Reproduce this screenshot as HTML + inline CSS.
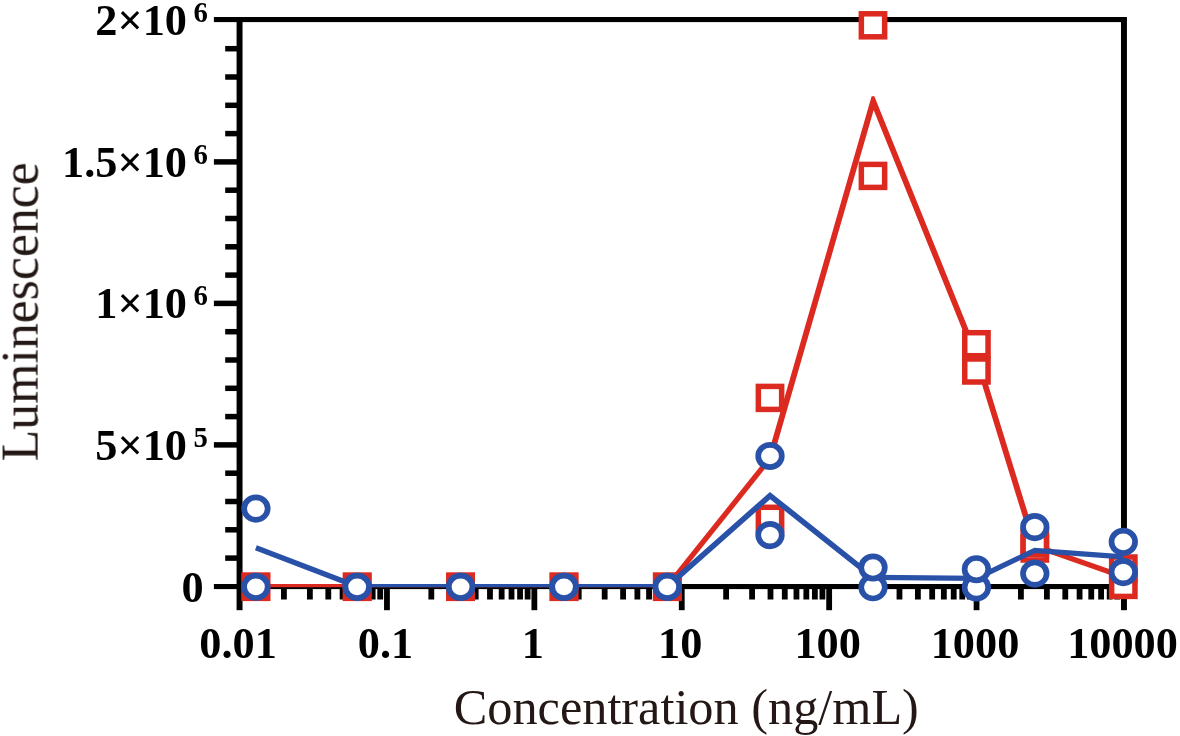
<!DOCTYPE html>
<html><head><meta charset="utf-8"><title>chart</title>
<style>
html,body{margin:0;padding:0;background:#fff;}
body{width:1180px;height:736px;overflow:hidden;}
svg{display:block;}
text{font-family:"Liberation Serif",serif;}
.tk{font-weight:bold;font-size:44.3px;fill:#000;}
.sup{font-size:28.8px;}
.ttl{font-size:50.3px;fill:#231815;}
.ttly{font-size:51.8px;fill:#231815;}
</style></head><body>
<svg width="1180" height="736" viewBox="0 0 1180 736">
<defs><clipPath id="cp"><rect x="0" y="96.3" width="1180" height="490.9"/></clipPath></defs>
<rect width="1180" height="736" fill="#fff"/>

<g fill="#000">
<rect x="225.20" y="555.35" width="14.35" height="5.50"/>
<rect x="225.20" y="527.05" width="14.35" height="5.50"/>
<rect x="225.20" y="498.75" width="14.35" height="5.50"/>
<rect x="225.20" y="470.45" width="14.35" height="5.50"/>
<rect x="213.90" y="442.15" width="25.65" height="5.50"/>
<rect x="225.20" y="413.85" width="14.35" height="5.50"/>
<rect x="225.20" y="385.55" width="14.35" height="5.50"/>
<rect x="225.20" y="357.25" width="14.35" height="5.50"/>
<rect x="225.20" y="328.95" width="14.35" height="5.50"/>
<rect x="213.90" y="300.65" width="25.65" height="5.50"/>
<rect x="225.20" y="272.35" width="14.35" height="5.50"/>
<rect x="225.20" y="244.05" width="14.35" height="5.50"/>
<rect x="225.20" y="215.75" width="14.35" height="5.50"/>
<rect x="225.20" y="187.45" width="14.35" height="5.50"/>
<rect x="213.90" y="159.15" width="25.65" height="5.50"/>
<rect x="225.20" y="130.85" width="14.35" height="5.50"/>
<rect x="225.20" y="102.55" width="14.35" height="5.50"/>
<rect x="225.20" y="74.25" width="14.35" height="5.50"/>
<rect x="225.20" y="45.95" width="14.35" height="5.50"/>
<rect x="213.90" y="17.00" width="25.65" height="5.10"/>
<rect x="213.90" y="584.00" width="25.65" height="5.10"/>
<rect x="239.55" y="17.00" width="884.40" height="5.10"/>
<rect x="239.55" y="584.00" width="884.40" height="5.10"/>
<rect x="236.58" y="17.00" width="5.95" height="593.20"/>
<rect x="1120.98" y="17.00" width="5.95" height="593.20"/>
<rect x="281.02" y="586.55" width="5.80" height="12.95"/>
<rect x="306.98" y="586.55" width="5.80" height="12.95"/>
<rect x="325.39" y="586.55" width="5.80" height="12.95"/>
<rect x="339.68" y="586.55" width="5.80" height="12.95"/>
<rect x="351.35" y="586.55" width="5.80" height="12.95"/>
<rect x="361.22" y="586.55" width="5.80" height="12.95"/>
<rect x="369.77" y="586.55" width="5.80" height="12.95"/>
<rect x="377.31" y="586.55" width="5.80" height="12.95"/>
<rect x="384.05" y="586.55" width="5.80" height="23.65"/>
<rect x="428.42" y="586.55" width="5.80" height="12.95"/>
<rect x="454.38" y="586.55" width="5.80" height="12.95"/>
<rect x="472.79" y="586.55" width="5.80" height="12.95"/>
<rect x="487.08" y="586.55" width="5.80" height="12.95"/>
<rect x="498.75" y="586.55" width="5.80" height="12.95"/>
<rect x="508.62" y="586.55" width="5.80" height="12.95"/>
<rect x="517.17" y="586.55" width="5.80" height="12.95"/>
<rect x="524.71" y="586.55" width="5.80" height="12.95"/>
<rect x="531.45" y="586.55" width="5.80" height="23.65"/>
<rect x="575.82" y="586.55" width="5.80" height="12.95"/>
<rect x="601.78" y="586.55" width="5.80" height="12.95"/>
<rect x="620.19" y="586.55" width="5.80" height="12.95"/>
<rect x="634.48" y="586.55" width="5.80" height="12.95"/>
<rect x="646.15" y="586.55" width="5.80" height="12.95"/>
<rect x="656.02" y="586.55" width="5.80" height="12.95"/>
<rect x="664.57" y="586.55" width="5.80" height="12.95"/>
<rect x="672.11" y="586.55" width="5.80" height="12.95"/>
<rect x="678.85" y="586.55" width="5.80" height="23.65"/>
<rect x="723.22" y="586.55" width="5.80" height="12.95"/>
<rect x="749.18" y="586.55" width="5.80" height="12.95"/>
<rect x="767.59" y="586.55" width="5.80" height="12.95"/>
<rect x="781.88" y="586.55" width="5.80" height="12.95"/>
<rect x="793.55" y="586.55" width="5.80" height="12.95"/>
<rect x="803.42" y="586.55" width="5.80" height="12.95"/>
<rect x="811.97" y="586.55" width="5.80" height="12.95"/>
<rect x="819.51" y="586.55" width="5.80" height="12.95"/>
<rect x="826.25" y="586.55" width="5.80" height="23.65"/>
<rect x="870.62" y="586.55" width="5.80" height="12.95"/>
<rect x="896.58" y="586.55" width="5.80" height="12.95"/>
<rect x="914.99" y="586.55" width="5.80" height="12.95"/>
<rect x="929.28" y="586.55" width="5.80" height="12.95"/>
<rect x="940.95" y="586.55" width="5.80" height="12.95"/>
<rect x="950.82" y="586.55" width="5.80" height="12.95"/>
<rect x="959.37" y="586.55" width="5.80" height="12.95"/>
<rect x="966.91" y="586.55" width="5.80" height="12.95"/>
<rect x="973.65" y="586.55" width="5.80" height="23.65"/>
<rect x="1018.02" y="586.55" width="5.80" height="12.95"/>
<rect x="1043.98" y="586.55" width="5.80" height="12.95"/>
<rect x="1062.39" y="586.55" width="5.80" height="12.95"/>
<rect x="1076.68" y="586.55" width="5.80" height="12.95"/>
<rect x="1088.35" y="586.55" width="5.80" height="12.95"/>
<rect x="1098.22" y="586.55" width="5.80" height="12.95"/>
<rect x="1106.77" y="586.55" width="5.80" height="12.95"/>
<rect x="1114.31" y="586.55" width="5.80" height="12.95"/>
</g>
<path d="M255.9 586.55 L357.2 586.55 L460.6 586.55 L564.0 586.55 L667.3 586.55" fill="none" stroke="#DC2A20" stroke-width="5.0" stroke-linejoin="miter" stroke-miterlimit="6" clip-path="url(#cp)"/>
<path d="M667.3 586.55 L770.0 458.35" fill="none" stroke="#DC2A20" stroke-width="5.3" stroke-linejoin="miter" stroke-miterlimit="6" clip-path="url(#cp)"/>
<path d="M770.0 458.35 L873.2 101.20 L976.7 357.35 L1034.8 545.77" fill="none" stroke="#DC2A20" stroke-width="5.8" stroke-linejoin="miter" stroke-miterlimit="6" clip-path="url(#cp)"/>
<path d="M1034.8 545.77 L1123.3 576.70" fill="none" stroke="#DC2A20" stroke-width="5.2" stroke-linejoin="miter" stroke-miterlimit="6" clip-path="url(#cp)"/>
<rect x="241.50" y="572.55" width="28.8" height="28.5" fill="#DC2A20"/><rect x="247.00" y="578.05" width="17.8" height="17.5" fill="#fff"/>
<rect x="241.50" y="572.55" width="28.8" height="28.5" fill="#DC2A20"/><rect x="247.00" y="578.05" width="17.8" height="17.5" fill="#fff"/>
<rect x="342.80" y="572.55" width="28.8" height="28.5" fill="#DC2A20"/><rect x="348.30" y="578.05" width="17.8" height="17.5" fill="#fff"/>
<rect x="342.80" y="572.55" width="28.8" height="28.5" fill="#DC2A20"/><rect x="348.30" y="578.05" width="17.8" height="17.5" fill="#fff"/>
<rect x="446.20" y="572.55" width="28.8" height="28.5" fill="#DC2A20"/><rect x="451.70" y="578.05" width="17.8" height="17.5" fill="#fff"/>
<rect x="446.20" y="572.55" width="28.8" height="28.5" fill="#DC2A20"/><rect x="451.70" y="578.05" width="17.8" height="17.5" fill="#fff"/>
<rect x="549.60" y="572.55" width="28.8" height="28.5" fill="#DC2A20"/><rect x="555.10" y="578.05" width="17.8" height="17.5" fill="#fff"/>
<rect x="549.60" y="572.55" width="28.8" height="28.5" fill="#DC2A20"/><rect x="555.10" y="578.05" width="17.8" height="17.5" fill="#fff"/>
<rect x="652.90" y="572.55" width="28.8" height="28.5" fill="#DC2A20"/><rect x="658.40" y="578.05" width="17.8" height="17.5" fill="#fff"/>
<rect x="652.90" y="572.55" width="28.8" height="28.5" fill="#DC2A20"/><rect x="658.40" y="578.05" width="17.8" height="17.5" fill="#fff"/>
<rect x="755.60" y="504.55" width="28.8" height="28.5" fill="#DC2A20"/><rect x="761.10" y="510.05" width="17.8" height="17.5" fill="#fff"/>
<rect x="755.60" y="383.65" width="28.8" height="28.5" fill="#DC2A20"/><rect x="761.10" y="389.15" width="17.8" height="17.5" fill="#fff"/>
<rect x="858.60" y="161.65" width="28.8" height="28.5" fill="#DC2A20"/><rect x="864.10" y="167.15" width="17.8" height="17.5" fill="#fff"/>
<rect x="858.60" y="11.05" width="28.8" height="28.5" fill="#DC2A20"/><rect x="864.10" y="16.55" width="17.8" height="17.5" fill="#fff"/>
<rect x="962.00" y="356.25" width="28.8" height="28.5" fill="#DC2A20"/><rect x="967.50" y="361.75" width="17.8" height="17.5" fill="#fff"/>
<rect x="962.00" y="329.95" width="28.8" height="28.5" fill="#DC2A20"/><rect x="967.50" y="335.45" width="17.8" height="17.5" fill="#fff"/>
<rect x="1020.40" y="534.25" width="28.8" height="28.5" fill="#DC2A20"/><rect x="1025.90" y="539.75" width="17.8" height="17.5" fill="#fff"/>
<rect x="1020.40" y="528.80" width="28.8" height="28.5" fill="#DC2A20"/><rect x="1025.90" y="534.30" width="17.8" height="17.5" fill="#fff"/>
<rect x="1108.90" y="570.65" width="28.8" height="28.5" fill="#DC2A20"/><rect x="1114.40" y="576.15" width="17.8" height="17.5" fill="#fff"/>
<rect x="1108.90" y="554.25" width="28.8" height="28.5" fill="#DC2A20"/><rect x="1114.40" y="559.75" width="17.8" height="17.5" fill="#fff"/>
<path d="M255.9 547.70 L357.2 586.55" fill="none" stroke="#2951A8" stroke-width="5.4" stroke-linejoin="miter" stroke-miterlimit="6" clip-path="url(#cp)"/>
<path d="M357.2 586.55 L460.6 586.55 L564.0 586.55 L667.3 586.55" fill="none" stroke="#2951A8" stroke-width="5.0" stroke-linejoin="miter" stroke-miterlimit="6" clip-path="url(#cp)"/>
<path d="M667.3 586.55 L770.0 495.55 L873.0 577.40" fill="none" stroke="#2951A8" stroke-width="5.6" stroke-linejoin="miter" stroke-miterlimit="6" clip-path="url(#cp)"/>
<path d="M873.0 577.40 L976.4 578.30" fill="none" stroke="#2951A8" stroke-width="5.2" stroke-linejoin="miter" stroke-miterlimit="6" clip-path="url(#cp)"/>
<path d="M976.4 578.30 L1034.8 550.35 L1123.3 556.95" fill="none" stroke="#2951A8" stroke-width="5.3" stroke-linejoin="miter" stroke-miterlimit="6" clip-path="url(#cp)"/>
<ellipse cx="255.90" cy="586.80" rx="11.8" ry="11.2" fill="#fff" stroke="#2951A8" stroke-width="5.7"/>
<ellipse cx="255.90" cy="508.60" rx="11.8" ry="11.2" fill="#fff" stroke="#2951A8" stroke-width="5.7"/>
<ellipse cx="357.20" cy="586.80" rx="11.8" ry="11.2" fill="#fff" stroke="#2951A8" stroke-width="5.7"/>
<ellipse cx="357.20" cy="586.80" rx="11.8" ry="11.2" fill="#fff" stroke="#2951A8" stroke-width="5.7"/>
<ellipse cx="460.60" cy="586.80" rx="11.8" ry="11.2" fill="#fff" stroke="#2951A8" stroke-width="5.7"/>
<ellipse cx="460.60" cy="586.80" rx="11.8" ry="11.2" fill="#fff" stroke="#2951A8" stroke-width="5.7"/>
<ellipse cx="564.00" cy="586.80" rx="11.8" ry="11.2" fill="#fff" stroke="#2951A8" stroke-width="5.7"/>
<ellipse cx="564.00" cy="586.80" rx="11.8" ry="11.2" fill="#fff" stroke="#2951A8" stroke-width="5.7"/>
<ellipse cx="667.30" cy="586.80" rx="11.8" ry="11.2" fill="#fff" stroke="#2951A8" stroke-width="5.7"/>
<ellipse cx="667.30" cy="586.80" rx="11.8" ry="11.2" fill="#fff" stroke="#2951A8" stroke-width="5.7"/>
<ellipse cx="770.00" cy="535.10" rx="11.8" ry="11.2" fill="#fff" stroke="#2951A8" stroke-width="5.7"/>
<ellipse cx="770.00" cy="456.00" rx="11.8" ry="11.2" fill="#fff" stroke="#2951A8" stroke-width="5.7"/>
<ellipse cx="873.00" cy="587.30" rx="11.8" ry="11.2" fill="#fff" stroke="#2951A8" stroke-width="5.7"/>
<ellipse cx="873.00" cy="567.50" rx="11.8" ry="11.2" fill="#fff" stroke="#2951A8" stroke-width="5.7"/>
<ellipse cx="976.40" cy="587.40" rx="11.8" ry="11.2" fill="#fff" stroke="#2951A8" stroke-width="5.7"/>
<ellipse cx="976.40" cy="569.20" rx="11.8" ry="11.2" fill="#fff" stroke="#2951A8" stroke-width="5.7"/>
<ellipse cx="1034.80" cy="573.60" rx="11.8" ry="11.2" fill="#fff" stroke="#2951A8" stroke-width="5.7"/>
<ellipse cx="1034.80" cy="527.10" rx="11.8" ry="11.2" fill="#fff" stroke="#2951A8" stroke-width="5.7"/>
<ellipse cx="1123.30" cy="572.10" rx="11.8" ry="11.2" fill="#fff" stroke="#2951A8" stroke-width="5.7"/>
<ellipse cx="1123.30" cy="541.80" rx="11.8" ry="11.2" fill="#fff" stroke="#2951A8" stroke-width="5.7"/>
<g opacity="0.999">
<text class="tk" x="187" y="34.8" text-anchor="end">2×10</text><text class="tk sup" x="193.5" y="21.8">6</text>
<text class="tk" x="187" y="176.6" text-anchor="end">1.5×10</text><text class="tk sup" x="193.5" y="163.6">6</text>
<text class="tk" x="187" y="318.4" text-anchor="end">1×10</text><text class="tk sup" x="193.5" y="305.4">6</text>
<text class="tk" x="187" y="460.2" text-anchor="end">5×10</text><text class="tk sup" x="193.5" y="447.2">5</text>
<text class="tk" x="203.7" y="602.0" text-anchor="end">0</text>
<text class="tk" x="238.1" y="658.3" text-anchor="middle">0.01</text>
<text class="tk" x="385.5" y="658.3" text-anchor="middle">0.1</text>
<text class="tk" x="532.9" y="658.3" text-anchor="middle">1</text>
<text class="tk" x="680.2" y="658.3" text-anchor="middle">10</text>
<text class="tk" x="827.7" y="658.3" text-anchor="middle">100</text>
<text class="tk" x="975.0" y="658.3" text-anchor="middle">1000</text>
<text class="tk" x="1122.5" y="658.3" text-anchor="middle">10000</text>
<text class="ttl" x="686.3" y="724" text-anchor="middle">Concentration (ng/mL)</text>
<text class="ttly" transform="translate(37.6 311.8) rotate(-90)" text-anchor="middle">Luminescence</text>
</g>
</svg></body></html>
